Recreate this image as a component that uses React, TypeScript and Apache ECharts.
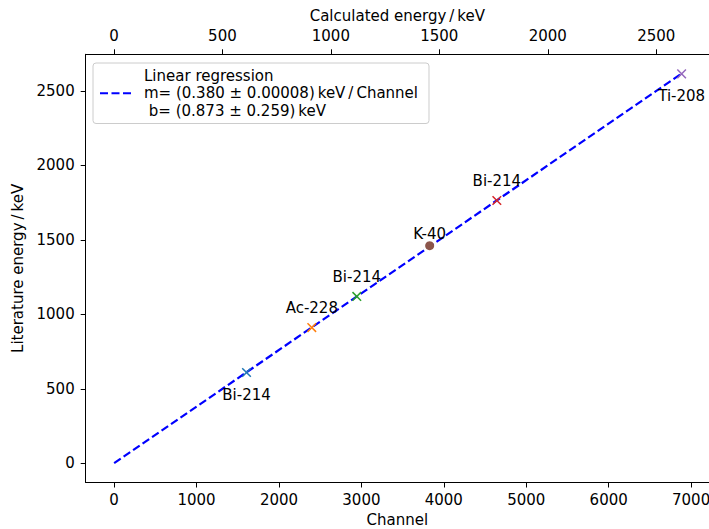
import React, { useEffect, useRef } from "react";
import * as echarts from "echarts";

// ---- data ----
const isotopes = ["Bi-214", "Ac-228", "Bi-214", "Bi-214", "Ti-208", "K-40"];
const channels = [1606, 2398, 2944, 4643, 6885, 3828];
const energies = [609.3, 911.2, 1120.3, 1764.5, 2614.5, 1460.8];
const pointColors = ["#1f77b4", "#ff7f0e", "#2ca02c", "#d62728", "#9467bd", "#8c564b"];
const pointMarkers = ["x", "x", "x", "x", "x", "o"];
const labelSides = ["bottom", "top", "top", "top", "bottom", "top"];

// linear regression (from legend)
const SLOPE = 0.38;
const INTERCEPT = 0.873;
const fitChannels = [0, 6885];

// axes
const channelTicks = [0, 1000, 2000, 3000, 4000, 5000, 6000, 7000];
const energyTicks = [0, 500, 1000, 1500, 2000, 2500];
const X_MIN = -345;
const X_MAX = 7217;
const Y_MIN = -129;
const Y_MAX = 2746;

const FONT = "DejaVu Sans";
const FS = 15;
const LINE_NAME =
  "Linear regression\nm= (0.380 ± 0.00008)\u2009keV\u2009/\u2009Channel\n b= (0.873 ± 0.259)\u2009keV";

const X_PATH = "path://M0,0L10,10M0,10L10,0";

export default function App() {
  const ref = useRef<HTMLDivElement>(null);
  useEffect(() => {
    document.body.style.margin = "0";
    if (!ref.current) return;
    const chart = echarts.init(ref.current, undefined, { renderer: "svg" });

    const axisCommon = {
      type: "value" as const,
      splitLine: { show: false },
      axisLine: { show: true, onZero: false, lineStyle: { color: "#000", width: 1 } },
      axisTick: { show: true, length: 5, inside: false, lineStyle: { color: "#000", width: 1 } },
      nameTextStyle: { color: "#000", fontSize: FS, fontFamily: FONT },
    };
    const labelCommon = {
      color: "#000",
      fontSize: FS,
      fontFamily: FONT,
      formatter: (v: number) => String(v),
    };

    const scatterSeries = isotopes.map((name, i) => ({
      type: "scatter",
      name: name + "_" + i,
      xAxisIndex: 0,
      yAxisIndex: 0,
      z: 3,
      data: [[channels[i], energies[i]]],
      symbol: pointMarkers[i] === "o" ? "circle" : X_PATH,
      symbolSize: pointMarkers[i] === "o" ? 9 : 8.6,
      itemStyle:
        pointMarkers[i] === "o"
          ? { color: pointColors[i], opacity: 1 }
          : { color: pointColors[i], borderColor: pointColors[i], borderWidth: 1.5, opacity: 1 },
      label: {
        show: true,
        formatter: name,
        position: labelSides[i],
        distance: pointMarkers[i] === "o" ? 0 : labelSides[i] === "bottom" ? 9.5 : 7,
        color: "#000",
        fontSize: FS,
        fontFamily: FONT,
      },
      emphasis: { disabled: true },
    }));

    chart.setOption({
      animation: false,
      backgroundColor: "#fff",
      grid: {
        left: 85.7,
        right: 0,
        top: 54.3,
        bottom: 46.5,
        containLabel: false,
        outerBoundsMode: "none",
      },
      legend: {
        data: [{ name: LINE_NAME, itemStyle: { opacity: 0 } }],
        left: 93,
        top: 63,
        orient: "vertical",
        padding: [4, 11, 4, 6],
        itemWidth: 31,
        itemHeight: 14,
        backgroundColor: "rgba(255,255,255,0.8)",
        borderColor: "#cccccc",
        borderWidth: 1,
        borderRadius: 3,
        selectedMode: false,
        textStyle: {
          color: "#000",
          fontSize: FS,
          fontFamily: FONT,
          lineHeight: 17.5,
          padding: [0, 0, 0, 8],
        },
      },
      xAxis: [
        {
          ...axisCommon,
          position: "bottom",
          min: X_MIN,
          max: X_MAX,
          name: "Channel",
          nameLocation: "middle",
          nameGap: 28,
          axisLabel: { ...labelCommon, margin: 10, customValues: channelTicks },
          axisTick: { ...axisCommon.axisTick, customValues: channelTicks },
        },
        {
          ...axisCommon,
          position: "top",
          min: SLOPE * X_MIN + INTERCEPT,
          max: SLOPE * X_MAX + INTERCEPT,
          name: "Calculated energy\u2009/\u2009keV",
          nameLocation: "middle",
          nameGap: 29,
          axisLabel: { ...labelCommon, margin: 11, customValues: energyTicks },
          axisTick: { ...axisCommon.axisTick, customValues: energyTicks },
        },
      ],
      yAxis: [
        {
          ...axisCommon,
          position: "left",
          min: Y_MIN,
          max: Y_MAX,
          name: "Literature energy\u2009/\u2009keV",
          nameLocation: "middle",
          nameGap: 54,
          axisLabel: { ...labelCommon, margin: 11, customValues: energyTicks },
          axisTick: { ...axisCommon.axisTick, customValues: energyTicks },
        },
      ],
      series: [
        {
          type: "line",
          name: LINE_NAME,
          xAxisIndex: 0,
          yAxisIndex: 0,
          z: 2,
          data: fitChannels.map((c) => [c, SLOPE * c + INTERCEPT]),
          symbol: "none",
          lineStyle: { color: "#0000ff", width: 2.2, type: [8, 3.5] },
          itemStyle: { color: "#0000ff" },
          emphasis: { disabled: true },
        },
        ...scatterSeries,
      ],
    });
    return () => chart.dispose();
  }, []);
  return <div ref={ref} style={{ width: 709, height: 529 }} />;
}
